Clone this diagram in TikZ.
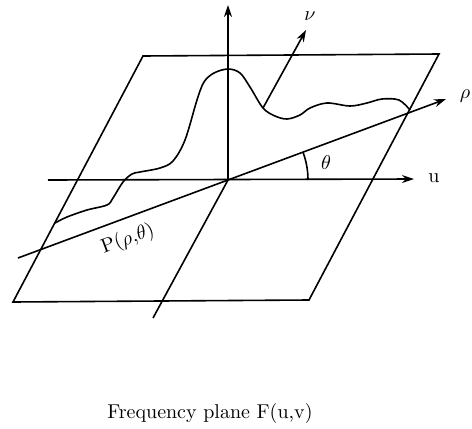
\documentclass[tikz,border=0pt]{standalone}
\usetikzlibrary{arrows.meta,calc}
\tikzset{every picture/.style={line width=0.8pt}}
\tikzset{
  axisarrow/.style={-{Stealth[length=6pt,width=4pt]}},
  lbl/.style={inner sep=1pt}
}

\begin{document}
\begin{tikzpicture}[x=0.5pt,y=-0.5pt]
    \useasboundingbox (0,0) rectangle (472,429);

    % 频率平面的四个角
    \coordinate (A) at (143,56);
    \coordinate (B) at (439,54);
    \coordinate (C) at (309,300);
    \coordinate (D) at (13,302);
    \coordinate (O) at (228,180);

    % 平面
    \draw (A) -- (B) -- (C) -- (D) -- cycle;

    % 坐标轴
    \coordinate (uL) at (48,180);
    \coordinate (uR) at (414,179);
    \coordinate (zTop) at (228,5);
    \coordinate (vBot) at (153,318);
    \coordinate (rhoL) at (18,258);
    \coordinate (rhoR) at (446,99);
    \draw[axisarrow] (uL) -- (uR);
    \draw[axisarrow] (O) -- (zTop);
    \draw (O) -- (vBot);
    \draw[axisarrow] (rhoL) -- (rhoR)
        node[pos=0.24, sloped, below=4pt, lbl] (plabel) {P($\rho$,$\theta$)};

    % 投影曲线
    \draw plot[smooth, tension=0.55] coordinates {
        (55,223) (67,217) (87,210) (107,205) (113,198) (123,182)
        (132,174) (140,172) (160,168) (173,161) (185,140) (197,100)
        (204,82) (214,73) (228,69) (240,73) (250,87) (263,108)
        (275,116) (287,119) (300,115) (310,108) (327,103) (350,106)
        (367,103) (382,99) (399,100) (410,110)};

    % nu 轴
    \coordinate (nuFoot) at (263,108);
    \coordinate (nuTip) at (306,30);
    \draw[axisarrow] (nuFoot) -- (nuTip);

    % 角度 theta
    \draw ($(O)+(80,0)$) arc[start angle=0, end angle=-20.4, radius=80];

    % 标注
    \node[lbl] (ulabel) at (434,178) {u};
    \node[lbl] (rholabel) at (465,96) {$\rho$};
    \node[lbl] (nulabel) at (310,16) {$\nu$};
    \node[lbl] (thlabel) at (326,163) {$\theta$};
    \node[lbl, anchor=base] (caption) at (210,418) {Frequency plane F(u,v)};
\end{tikzpicture}
\end{document}
